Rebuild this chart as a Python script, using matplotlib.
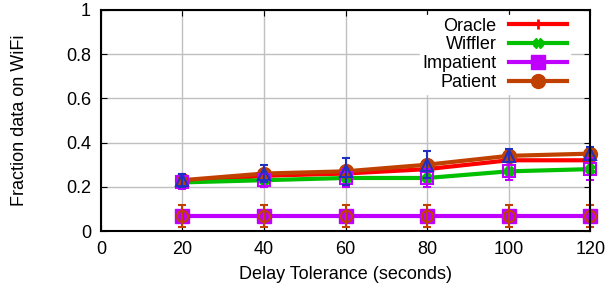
import matplotlib
matplotlib.use("Agg")
import matplotlib.pyplot as plt
import numpy as np

plt.rcParams['font.family'] = ['Liberation Sans', 'DejaVu Sans']

delay = [20, 40, 60, 80, 100, 120]
oracle = [0.22, 0.25, 0.26, 0.28, 0.32, 0.32]
wiffler = [0.22, 0.23, 0.24, 0.24, 0.27, 0.28]
impatient = [0.07, 0.07, 0.07, 0.07, 0.07, 0.07]
patient = [0.23, 0.26, 0.27, 0.30, 0.34, 0.35]

# error bar half-widths
patient_err = [0.03, 0.04, 0.06, 0.06, 0.03, 0.03]
wiffler_err = [0.03, 0.03, 0.04, 0.04, 0.04, 0.05]
impatient_err = [0.05, 0.05, 0.05, 0.05, 0.05, 0.05]

fig = plt.figure(figsize=(6.11, 2.91), dpi=100)
ax = fig.add_axes([0.165, 0.206, 0.801, 0.76])

ax.plot(delay, oracle, color="#ff0000", lw=3, marker="+", ms=7, mew=2, label="Oracle", zorder=3, clip_on=False)
ax.plot(delay, wiffler, color="#00c000", lw=3, marker="X", ms=7, label="Wiffler", zorder=3, clip_on=False)
ax.plot(delay, impatient, color="#c000ff", lw=3, marker="s", ms=10, label="Impatient", zorder=3, clip_on=False)
ax.plot(delay, patient, color="#c04000", lw=3, marker="o", ms=10, label="Patient", zorder=3, clip_on=False)

for y, e, m, c, z in [(wiffler, wiffler_err, "s", "#c000ff", 4),
                      (impatient, impatient_err, "o", "#c04000", 4),
                      (patient, patient_err, "^", "#2030c0", 5)]:
    eb = ax.errorbar(delay, y, yerr=e, fmt=m, ms=8, mfc="none", mec=c, mew=1.5,
                     ecolor=c, elinewidth=1.5, capsize=3, zorder=z)
    for art in [eb.lines[0]] + list(eb.lines[1]) + list(eb.lines[2]):
        art.set_clip_on(False)

ax.set_xlim(0, 120)
ax.set_ylim(0, 1)
ax.set_xticks(range(0, 121, 20))
ax.set_yticks([0, 0.2, 0.4, 0.6, 0.8, 1])
ax.set_yticklabels(["0", "0.2", "0.4", "0.6", "0.8", "1"])
ax.tick_params(direction="in", top=True, right=True, labelsize=13, pad=7, length=4)
ax.grid(True, color="#c0c0c0", lw=1)
ax.set_axisbelow(True)
for s in ax.spines.values():
    s.set_linewidth(1.5)
    s.set_zorder(6)

ax.set_xlabel("Delay Tolerance (seconds)", fontsize=13, labelpad=6)
ax.set_ylabel("Fraction data on WiFi", fontsize=13, labelpad=27)

leg = ax.legend(loc="upper right", bbox_to_anchor=(0.958, 0.977), frameon=True,
                markerfirst=False, fontsize=13, handlelength=3.2, borderaxespad=0,
                labelspacing=0.1, handletextpad=0.7, borderpad=0.15)
leg.get_frame().set_edgecolor("white")
leg.get_frame().set_facecolor("white")
leg.get_frame().set_alpha(1)
leg.set_zorder(7)
for t in leg.get_texts():
    t.set_ha("right")

fig.savefig("out.png", dpi=100)
